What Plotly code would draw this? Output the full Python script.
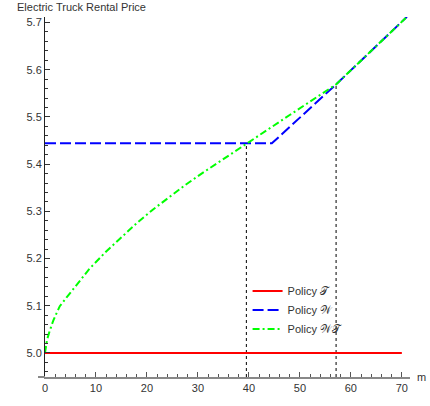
import plotly.graph_objects as go

# Data
m_T = [0, 70]
price_T = [5.0, 5.0]

m_W = [0, 44.5, 57.1, 64, 71]
price_W = [5.444, 5.444, 5.569, 5.640, 5.712]

m_WT = [0, 0.15, 0.4, 0.9, 1.6, 2.3, 2.9, 4.2, 6.1, 8.7, 12.0, 15.0, 18.0, 21.2, 24.5,
        27.8, 31.0, 34.3, 39.5, 48.0, 57.1, 64, 71]
price_WT = [5.0, 5.015, 5.028, 5.046, 5.068, 5.085, 5.099, 5.117, 5.143, 5.178, 5.215,
            5.246, 5.275, 5.304, 5.332, 5.358, 5.382, 5.405, 5.443, 5.504, 5.569, 5.640, 5.712]

cross_m = [39.5, 57.1]
cross_price = [5.443, 5.569]

y_bottom = 4.949
y_top = 5.7117
x_left = 0
x_right = 71.6

fig = go.Figure()

# vertical dashed guide lines
for cm, cp in zip(cross_m, cross_price):
    fig.add_trace(go.Scatter(x=[cm, cm], y=[y_bottom, cp], mode="lines",
                             line=dict(color="black", width=1, dash="3px,3px"),
                             showlegend=False, hoverinfo="skip"))

fig.add_trace(go.Scatter(x=m_T, y=price_T, mode="lines", name="Policy 𝒯",
                         line=dict(color="#ff0000", width=2)))
fig.add_trace(go.Scatter(x=m_W, y=price_W, mode="lines", name="Policy 𝒲",
                         line=dict(color="#0000ff", width=2, dash="11px,4px")))
fig.add_trace(go.Scatter(x=m_WT, y=price_WT, mode="lines", name="Policy 𝒲𝒯",
                         line=dict(color="#00ff00", width=2, dash="7px,3px,2px,3px")))

tickfont = dict(family="Liberation Sans, Arial, sans-serif", size=11, color="#333333")

fig.update_layout(
    width=430, height=406,
    margin=dict(l=45, r=20, t=17, b=16),
    paper_bgcolor="white", plot_bgcolor="white",
    font=tickfont,
    xaxis=dict(range=[x_left, x_right], showgrid=False, zeroline=False,
               showline=True, linecolor="#888888", linewidth=2,
               ticks="inside", ticklen=5, tickcolor="#555555", tickwidth=1,
               tick0=0, dtick=10, tickfont=tickfont,
               minor=dict(dtick=2, ticks="inside", ticklen=3, tickcolor="#555555")),
    yaxis=dict(range=[y_bottom, y_top], showgrid=False, zeroline=False,
               showline=True, linecolor="#222222", linewidth=1,
               ticks="inside", ticklen=5, tickcolor="#333333", tickwidth=1,
               tick0=5.0, dtick=0.1, tickformat=".1f", tickfont=tickfont,
               minor=dict(dtick=0.02, tick0=5.0, ticks="inside", ticklen=3, tickcolor="#333333")),
    legend=dict(x=0.555, y=0.279, xanchor="left", yanchor="top",
                bgcolor="rgba(0,0,0,0)", font=tickfont, itemwidth=30,
                tracegroupgap=0),
    showlegend=True,
)

# short extension of the x axis line to the left of the y axis
fig.add_shape(type="line", xref="paper", yref="paper", x0=-7/365, x1=0, y0=0, y1=0,
              line=dict(color="#888888", width=2))

fig.add_annotation(text="Electric Truck Rental Price", xref="paper", yref="paper",
                   x=-30/365, y=1 + 10/373, xanchor="left", yanchor="middle",
                   showarrow=False, font=tickfont)
fig.add_annotation(text="m", xref="paper", yref="paper",
                   x=1 + 11/365, y=0, xanchor="center", yanchor="middle",
                   showarrow=False, font=tickfont)

fig.write_html("out.html")
